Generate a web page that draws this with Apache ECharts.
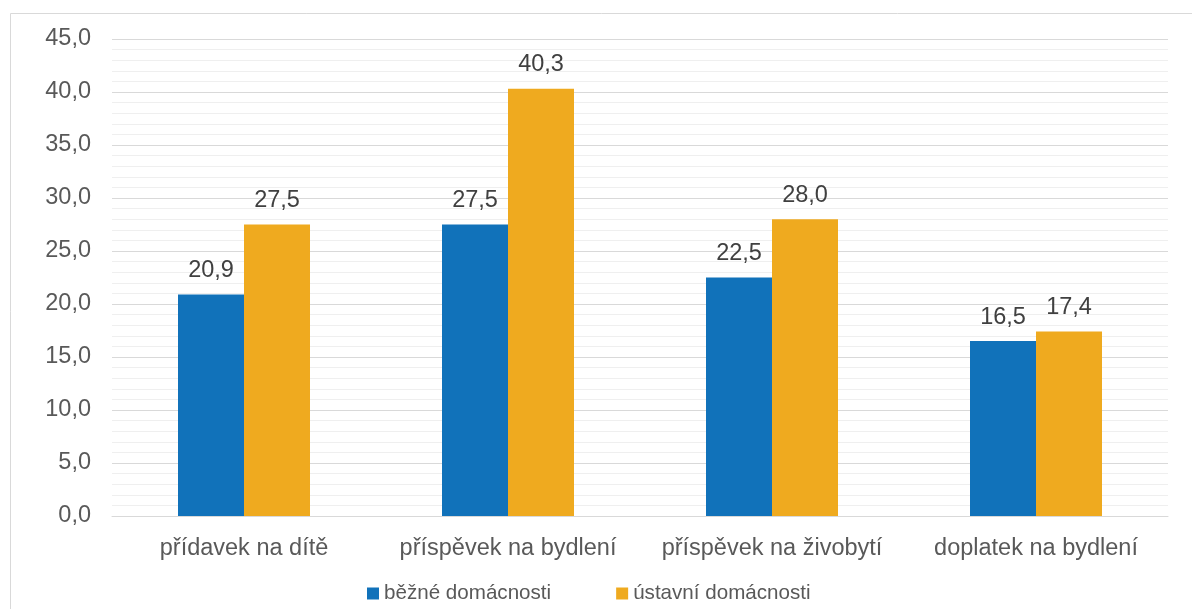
<!DOCTYPE html>
<html lang="cs">
<head>
    <meta charset="UTF-8">
    <title>Dávky</title>
    <script src="https://cdn.jsdelivr.net/npm/echarts@6/dist/echarts.min.js"></script>
    <style>
        html, body { margin: 0; padding: 0; background: #fff; }
        #main { width: 1192px; height: 609px; }
    </style>
</head>
<body>
    <div id="main"></div>
    <script>
        // data
        var categories = ['přídavek na dítě', 'příspěvek na bydlení', 'příspěvek na živobytí', 'doplatek na bydlení'];
        var seriesNames = ['běžné domácnosti', 'ústavní domácnosti'];
        var bezne = [20.9, 27.5, 22.5, 16.5];
        var ustavni = [27.5, 40.3, 28.0, 17.4];
        var colors = ['#1172BA', '#EFAA1F'];

        function cz(v) {
            return Number(v).toFixed(1).replace('.', ',');
        }

        var myChart = echarts.init(document.getElementById('main'));

        var font = 'Liberation Sans, Arial, sans-serif';
        var dataLabel = {
            show: true,
            position: 'top',
            distance: 12,
            fontSize: 23.5,
            color: '#404040',
            formatter: function (p) { return cz(p.value); }
        };

        var option = {
            animation: false,
            textStyle: { fontFamily: font },
            graphic: [{
                type: 'rect',
                shape: { x: 10.5, y: 13.5, width: 1200, height: 620 },
                style: { fill: 'none', stroke: '#d9d9d9', lineWidth: 1 },
                silent: true
            }],
            grid: {
                left: 112,
                right: 24,
                top: 39,
                bottom: 93,
                containLabel: false
            },
            legend: {
                data: seriesNames,
                left: 367,
                top: 583,
                padding: 0,
                itemWidth: 12,
                itemHeight: 12,
                itemGap: 65,
                icon: 'rect',
                textStyle: { fontSize: 20.6, color: '#595959' }
            },
            xAxis: {
                type: 'category',
                data: categories,
                axisLine: { show: true, lineStyle: { color: '#d9d9d9', width: 1 } },
                axisTick: { show: false },
                axisLabel: { fontSize: 23.5, color: '#595959', margin: 21, interval: 0 }
            },
            yAxis: {
                type: 'value',
                min: 0,
                max: 45,
                interval: 5,
                axisLine: { show: false },
                axisTick: { show: false },
                axisLabel: { fontSize: 23.5, color: '#595959', margin: 21, formatter: cz },
                splitLine: { lineStyle: { color: '#d9d9d9', width: 1 } },
                minorTick: { show: false, splitNumber: 5 },
                minorSplitLine: { show: true, lineStyle: { color: '#efefef', width: 1 } }
            },
            series: [{
                name: seriesNames[0],
                type: 'bar',
                data: bezne,
                itemStyle: { color: colors[0] },
                barGap: '0%',
                barCategoryGap: '50%',
                label: dataLabel
            }, {
                name: seriesNames[1],
                type: 'bar',
                data: ustavni,
                itemStyle: { color: colors[1] },
                barGap: '0%',
                barCategoryGap: '50%',
                label: dataLabel
            }]
        };

        myChart.setOption(option);
        window.onresize = myChart.resize;
    </script>
</body>
</html>
